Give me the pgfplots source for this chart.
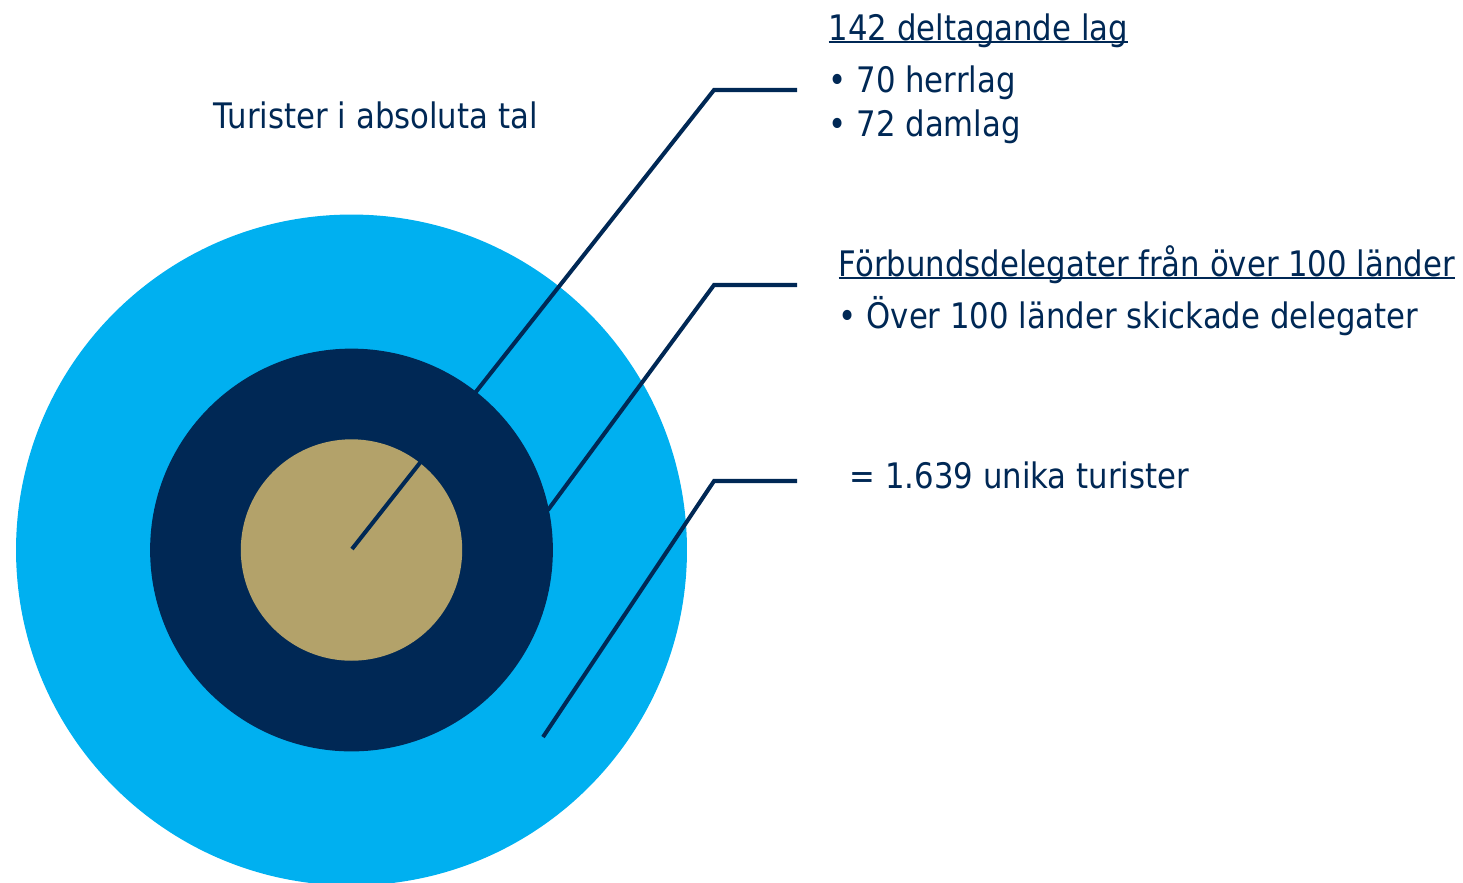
\documentclass[border=0pt]{standalone}
\usepackage{fontspec}
\setmainfont{DejaVu Sans}[FakeStretch=0.875]
\usepackage{pgfplots}
\pgfplotsset{compat=1.18}

\definecolor{navy}{RGB}{0,40,85}
\definecolor{skyblue}{RGB}{0,176,240}
\definecolor{tan}{RGB}{179,162,106}

% underline that cuts through descenders, like the reference
\newcommand\ul[1]{\setbox0\hbox{#1}\rlap{\rule[-0.09em]{\wd0}{0.055em}}\box0}

\begin{document}
\begin{tikzpicture}[lbl/.style={font=\fontsize{10}{12}\selectfont, text=navy, inner sep=0pt, anchor=base west}]
\begin{axis}[
  width=14.63cm, height=8.82cm, scale only axis,
  xmin=0, xmax=1463, ymin=0, ymax=882, y dir=reverse,
  hide axis, clip marker paths=true,
]
% nested circles (centre and radius in px)
\addplot[skyblue, only marks, mark=*, mark size=95.25pt, mark options={draw=skyblue, fill=skyblue}] coordinates {(351.5,550)};
\addplot[navy, only marks, mark=*, mark size=57.1pt, mark options={draw=navy, fill=navy}] coordinates {(351.5,550)};
\addplot[tan, only marks, mark=*, mark size=31.3pt, mark options={draw=tan, fill=tan}] coordinates {(351.5,550)};
% leader lines
\addplot[navy, line width=1.15pt] coordinates {(352,549)(714,90)(797,90)};
\addplot[navy, line width=1.15pt] coordinates {(548,510)(714,285)(797,285)};
\addplot[navy, line width=1.15pt] coordinates {(543,737)(714,481)(797,481)};
% texts
\node[lbl] at (axis cs:213,128) {Turister i absoluta tal};
\node[lbl] at (axis cs:828,40) {\ul{142 deltagande lag}};
\node[lbl] at (axis cs:828,92) {\textbullet\ 70 herrlag};
\node[lbl] at (axis cs:828,136) {\textbullet\ 72 damlag};
\node[lbl] at (axis cs:838,276) {\ul{Förbundsdelegater från över 100 länder}};
\node[lbl] at (axis cs:838,328) {\textbullet\ Över 100 länder skickade delegater};
\node[lbl] at (axis cs:849,488) {= 1.639 unika turister};
\end{axis}
\pgfresetboundingbox
\useasboundingbox (current axis.south west) rectangle (current axis.north east);
\end{tikzpicture}
\end{document}
